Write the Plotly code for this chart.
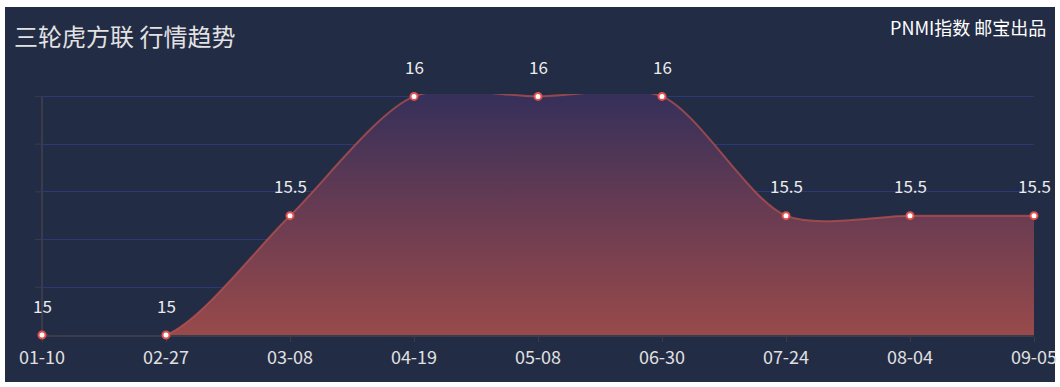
import plotly.graph_objects as go

categories = ["01-10", "02-27", "03-08", "04-19", "05-08", "06-30", "07-24", "08-04", "09-05"]
values = [15, 15, 15.5, 16, 16, 16, 15.5, 15.5, 15.5]
labels = ["15", "15", "15.5", "16", "16", "16", "15.5", "15.5", "15.5"]
y_ticks = [15, 15.2, 15.4, 15.6, 15.8, 16]
title_text = "三轮虎方联 行情趋势"
source_text = "PNMI指数 邮宝出品"

W, H = 1060, 387
ML, MR, MT, MB = 42, 26, 94, 52
PW, PH = W - ML - MR, H - MT - MB
BG = "#232c45"
FONT = "Noto Sans CJK SC"


def px_x(p):
    return (p - ML) / PW


def px_y(p):
    return (H - MB - p) / PH


fig = go.Figure()
fig.add_trace(go.Scatter(
    x=categories, y=values,
    mode="lines+markers",
    line=dict(shape="spline", smoothing=0.8, color="rgba(205,85,80,0.65)", width=2),
    marker=dict(size=7, color="#ffffff", line=dict(color="#e0524d", width=2)),
    fill="tozeroy",
    fillgradient=dict(type="vertical", start=15, stop=16,
                      colorscale=[[0, "rgb(152,74,74)"], [0.5, "rgb(106,60,82)"], [1, "rgb(54,48,90)"]]),
    cliponaxis=False,
    hoverinfo="x+y",
))

for c, v, t in zip(categories, values, labels):
    fig.add_annotation(x=c, y=v, text=t, showarrow=False, yshift=30,
                       font=dict(family=FONT, size=17, color="#ececec"))

fig.add_annotation(xref="paper", yref="paper", x=px_x(12), y=px_y(36), xanchor="left", yanchor="middle",
                   text=title_text, showarrow=False, font=dict(family=FONT, size=24, color="#e2e2e2"))
fig.add_annotation(xref="paper", yref="paper", x=px_x(1048), y=px_y(27), xanchor="right", yanchor="middle",
                   text=source_text, showarrow=False, font=dict(family=FONT, size=18, color="#ffffff"))

fig.add_shape(type="rect", xref="paper", yref="paper", layer="below",
              x0=px_x(5), x1=px_x(1055), y0=px_y(382), y1=px_y(7),
              fillcolor=BG, line=dict(width=0))

fig.update_layout(
    width=W, height=H,
    margin=dict(l=ML, r=MR, t=MT, b=MB, pad=0, autoexpand=False),
    paper_bgcolor="#ffffff",
    plot_bgcolor="rgba(0,0,0,0)",
    showlegend=False,
    xaxis=dict(
        type="category", range=[0, len(categories) - 1], automargin=False,
        showgrid=False, zeroline=False, layer="below traces",
        showline=True, linecolor="#3a3c4c", linewidth=2,
        ticks="outside", ticklen=5, tickcolor="#3a3c4c",
        tickfont=dict(family=FONT, size=18, color="#e0e0e0"),
        fixedrange=True,
    ),
    yaxis=dict(
        range=[15, 16.01], tickmode="array", tickvals=y_ticks, automargin=False,
        showgrid=True, gridcolor="#2f3876", gridwidth=1,
        zeroline=False, showticklabels=False, layer="below traces",
        showline=False,
        ticks="", fixedrange=True,
    ),
    shapes=[],
)

# y axis line and small tick marks, drawn on the data scale
fig.add_shape(type="line", xref="paper", yref="y", x0=0, x1=0, y0=y_ticks[0], y1=y_ticks[-1],
              line=dict(color="#3a3c4c", width=2), layer="below")
for tv in y_ticks[1:]:
    fig.add_shape(type="line", xref="paper", yref="y", x0=px_x(35), x1=0, y0=tv, y1=tv,
                  line=dict(color="#3a3c4c", width=1), layer="below")

fig.write_html("out.html", config={"displayModeBar": False},
               post_script="document.body.style.margin='0';document.body.style.overflow='hidden';")
